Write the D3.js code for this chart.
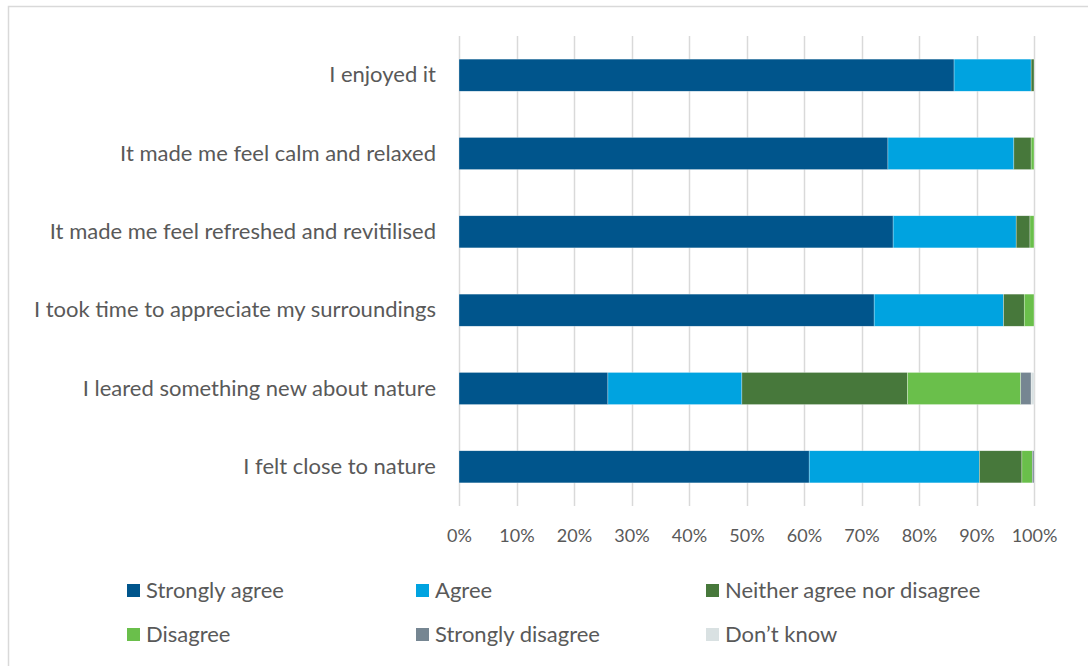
<!DOCTYPE html>
<html>
<head>
<meta charset="utf-8">
<script src="https://cdn.jsdelivr.net/npm/d3@7"></script>
<style>
  body { margin: 0; background: #fff; }
  svg text { font-family: Lato, "Open Sans", sans-serif; fill: #595959; }
</style>
</head>
<body>
<div class="chart"></div>
<script>
// statements, top to bottom
const statements = [
    "I enjoyed it",
    "It made me feel calm and relaxed",
    "It made me feel refreshed and revitilised",
    "I took time to appreciate my surroundings",
    "I leared something new about nature",
    "I felt close to nature"
];
const seriesNames = ["Strongly agree", "Agree", "Neither agree nor disagree", "Disagree", "Strongly disagree", "Don\u2019t know"];
const seriesColors = ["#00558c", "#00a3e0", "#47783b", "#6abf4b", "#768692", "#d9e1e2"];

// percent per statement, same order as statements
const stronglyAgree = [86.1, 74.6, 75.5, 72.2, 25.9, 60.9];
const agree         = [13.4, 21.9, 21.4, 22.5, 23.3, 29.6];
const neither       = [0.5, 3.0, 2.4, 3.6, 28.8, 7.4];
const disagree      = [0, 0.5, 0.7, 1.7, 19.7, 1.8];
const stronglyDis   = [0, 0, 0, 0, 1.8, 0.3];
const dontKnow      = [0, 0, 0, 0, 0.5, 0];
const xTicks = [0, 10, 20, 30, 40, 50, 60, 70, 80, 90, 100];

const W = 1088, H = 666;
const margin = { top: 36, left: 459, right: 54, bottom: 160 };
const width = W - margin.left - margin.right,
      height = H - margin.top - margin.bottom;

const table = statements.map((s, i) => ({
    statement: s,
    "Strongly agree": stronglyAgree[i],
    "Agree": agree[i],
    "Neither agree nor disagree": neither[i],
    "Disagree": disagree[i],
    "Strongly disagree": stronglyDis[i],
    "Don\u2019t know": dontKnow[i]
}));

const svg = d3.select(".chart").append("svg")
    .attr("width", W)
    .attr("height", H);

// outer frame
svg.append("rect")
    .attr("x", 8.5).attr("y", 6.5)
    .attr("width", W).attr("height", H)
    .attr("fill", "#fff")
    .attr("stroke", "#d9d9d9")
    .attr("stroke-width", 1.5);

const g = svg.append("g").attr("transform", `translate(${margin.left},${margin.top})`);

const x = d3.scaleLinear().domain([0, 100]).range([0, width]);
const y = d3.scaleBand().domain(statements).range([0, height]).paddingInner(0.59).paddingOuter(0.295);

// gridlines
g.append("g").selectAll("line")
    .data(xTicks)
    .join("line")
    .attr("x1", d => Math.round(x(d)) + 0.5)
    .attr("x2", d => Math.round(x(d)) + 0.5)
    .attr("y1", 0)
    .attr("y2", height)
    .attr("stroke", "#d9d9d9")
    .attr("stroke-width", 1.5);

// bars
const stack = d3.stack().keys(seriesNames)(table);
g.append("g").selectAll("g")
    .data(stack)
    .join("g")
    .attr("fill", (d, i) => seriesColors[i])
    .selectAll("rect")
    .data(d => d)
    .join("rect")
    .attr("x", d => x(d[0]))
    .attr("y", d => y(d.data.statement))
    .attr("width", d => Math.max(0, x(d[1]) - x(d[0])))
    .attr("height", y.bandwidth())
    .attr("stroke", "#fff")
    .attr("stroke-width", 0.5)
    .attr("stroke-opacity", 0.6);

// x axis
const xAxis = g.append("g")
    .attr("transform", `translate(0,${height})`)
    .call(d3.axisBottom(x).tickValues(xTicks).tickFormat(d => d + "%").tickSize(0).tickPadding(23));
xAxis.select(".domain").remove();
xAxis.selectAll("text").style("font-size", "18px").attr("fill", "#595959");

// y axis labels
const yAxis = g.append("g")
    .call(d3.axisLeft(y).tickSize(0).tickPadding(23));
yAxis.select(".domain").remove();
yAxis.selectAll("text").style("font-size", "22px").attr("fill", "#595959");

// legend
const legendCols = [127, 416, 706];
const legendRows = [590, 634];
const legend = svg.append("g").selectAll("g")
    .data(seriesNames)
    .join("g")
    .attr("transform", (d, i) => `translate(${legendCols[i % 3]},${legendRows[Math.floor(i / 3)]})`);
legend.append("rect")
    .attr("x", 0).attr("y", -6)
    .attr("width", 13).attr("height", 13)
    .attr("fill", (d, i) => seriesColors[i]);
legend.append("text")
    .attr("x", 19).attr("y", 0)
    .attr("dy", "0.35em")
    .style("font-size", "22px")
    .text(d => d);
</script>
</body>
</html>
